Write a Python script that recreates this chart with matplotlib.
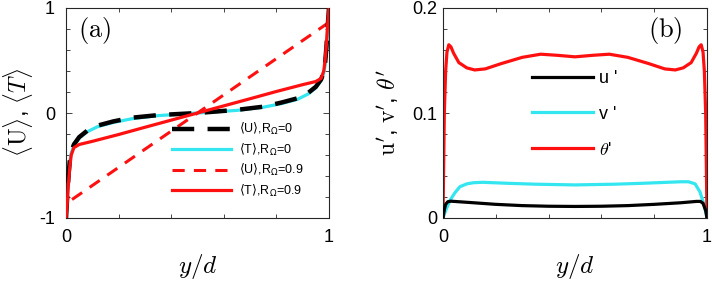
import matplotlib
matplotlib.use("Agg")
import matplotlib.pyplot as plt
from matplotlib.font_manager import FontProperties
from matplotlib.ticker import MultipleLocator, FixedLocator

plt.rcParams['font.family'] = ['Liberation Sans', 'DejaVu Sans']
plt.rcParams['mathtext.fontset'] = 'cm'

# ---- panel (a) data ----
x_r0 = [0, 0.005, 0.01, 0.015, 0.02, 0.03, 0.05, 0.08, 0.12, 0.18, 0.25, 0.35, 0.5,
        0.65, 0.75, 0.82, 0.88, 0.92, 0.95, 0.97, 0.98, 0.985, 0.99, 0.995, 1.0]
U_r0 = [-1, -0.78, -0.58, -0.44, -0.37, -0.30, -0.23, -0.17, -0.12, -0.08, -0.045, -0.02, 0,
        0.03, 0.06, 0.10, 0.14, 0.19, 0.25, 0.32, 0.39, 0.47, 0.62, 0.82, 1]
T_r0 = [-1, -0.8, -0.6, -0.45, -0.38, -0.31, -0.24, -0.18, -0.13, -0.09, -0.055, -0.025, 0,
        0.025, 0.055, 0.09, 0.13, 0.18, 0.24, 0.31, 0.38, 0.45, 0.6, 0.8, 1]
x_U9 = [0, 0.002, 0.5, 0.998, 1.0]
U_r9 = [-1, -0.86, 0, 0.86, 1]
x_T9 = [0, 0.005, 0.01, 0.015, 0.02, 0.03, 0.05, 0.1, 0.2, 0.3, 0.4, 0.5, 0.6, 0.7,
        0.8, 0.9, 0.95, 0.97, 0.98, 0.985, 0.99, 0.995, 1]
T_r9 = [-1, -0.85, -0.65, -0.5, -0.4, -0.33, -0.3, -0.27, -0.205, -0.136, -0.068, 0, 0.068,
        0.136, 0.205, 0.27, 0.30, 0.33, 0.4, 0.5, 0.65, 0.85, 1.0]

# ---- panel (b) data ----
x_th = [0, 0.005, 0.01, 0.015, 0.022, 0.03, 0.04, 0.06, 0.09, 0.12, 0.16, 0.22, 0.3, 0.37,
        0.43, 0.5, 0.57, 0.63, 0.7, 0.78, 0.84, 0.88, 0.91, 0.94, 0.96, 0.97, 0.978, 0.985,
        0.99, 0.995, 1.0]
theta = [0, 0.10, 0.14, 0.158, 0.165, 0.163, 0.157, 0.148, 0.143, 0.141, 0.142, 0.147, 0.153,
         0.156, 0.155, 0.1535, 0.155, 0.156, 0.153, 0.147, 0.142, 0.141, 0.143, 0.148, 0.157,
         0.163, 0.165, 0.158, 0.14, 0.10, 0]
x_v = [0, 0.01, 0.027, 0.045, 0.064, 0.09, 0.115, 0.15, 0.25, 0.35, 0.5, 0.65, 0.75, 0.85,
       0.9, 0.93, 0.955, 0.973, 0.99, 1.0]
v_p = [0, 0.007, 0.017, 0.024, 0.0298, 0.0325, 0.0336, 0.034, 0.033, 0.0322, 0.0315, 0.0322,
       0.033, 0.034, 0.0345, 0.0345, 0.0325, 0.025, 0.012, 0]
x_u = [0, 0.005, 0.01, 0.018, 0.03, 0.1, 0.2, 0.3, 0.4, 0.5, 0.6, 0.7, 0.8, 0.9, 0.96,
       0.975, 0.985, 0.995, 1.0]
u_p = [0, 0.008, 0.013, 0.0155, 0.016, 0.0148, 0.013, 0.0118, 0.0112, 0.011, 0.0112, 0.0118,
       0.013, 0.0145, 0.0158, 0.0158, 0.014, 0.007, 0]

fig = plt.figure(figsize=(7.12, 2.84), dpi=100)
W, H = 712, 284
axa = fig.add_axes([66 / W, 1 - 218 / H, (329 - 66) / W, 210 / H])
axb = fig.add_axes([443 / W, 1 - 218 / H, (707 - 443) / W, 210 / H])

CYAN = '#33e6f0'
RED = '#ff1010'

axa.plot(x_r0, U_r0, color='black', lw=3.2, ls=(0, (5, 3)), label=r'$\langle$U$\rangle$,R$_\Omega$=0', zorder=3)
axa.plot(x_r0, T_r0, color=CYAN, lw=2.3, label=r'$\langle$T$\rangle$,R$_\Omega$=0', zorder=2)
axa.plot(x_U9, U_r9, color=RED, lw=2.2, ls=(0, (4, 3)), label=r'$\langle$U$\rangle$,R$_\Omega$=0.9', zorder=2)
axa.plot(x_T9, T_r9, color=RED, lw=2.3, label=r'$\langle$T$\rangle$,R$_\Omega$=0.9', zorder=4)

axb.plot(x_u, u_p, color='black', lw=2.3, label="u '", zorder=3)
axb.plot(x_v, v_p, color=CYAN, lw=2.3, label="v '", zorder=2)
axb.plot(x_th, theta, color=RED, lw=2.3, label=r"$\theta$'", zorder=2)

for ax, pad in ((axa, 8), (axb, 4)):
    ax.set_xlim(0, 1)
    ax.xaxis.set_major_locator(FixedLocator([0, 1]))
    ax.xaxis.set_minor_locator(MultipleLocator(0.2))
    ax.tick_params(which='both', direction='in', top=True, right=True,
                   color='#262626', width=0.6, labelsize=13)
    ax.tick_params(which='major', length=4)
    ax.tick_params(which='minor', length=3)
    ax.tick_params(axis='x', pad=8)
    ax.tick_params(axis='y', pad=pad)
    for s in ax.spines.values():
        s.set_color('#262626')
        s.set_linewidth(0.8)
    ax.set_xlabel(r'$y/d$', fontsize=18, labelpad=4)

axa.set_ylim(-1, 1)
axa.yaxis.set_major_locator(FixedLocator([-1, 0, 1]))
axa.yaxis.set_minor_locator(MultipleLocator(0.2))
axa.set_yticklabels(['-1', '0', '1'])
axa.set_ylabel(r'$\langle\mathrm{U}\rangle$, $\langle T\rangle$', fontsize=17, labelpad=3)

axb.set_ylim(0, 0.2)
axb.yaxis.set_major_locator(FixedLocator([0, 0.1, 0.2]))
axb.yaxis.set_minor_locator(MultipleLocator(0.02))
axb.set_yticklabels(['0', '0.1', '0.2'])
axb.set_ylabel(r"$\mathrm{u}'$, $\mathrm{v}'$, $\theta'$", fontsize=17, labelpad=8)

axa.text(0.045, 0.895, r'$\mathrm{(a)}$', transform=axa.transAxes, fontsize=19,
         va='center', ha='left')
axb.text(0.775, 0.895, r'$\mathrm{(b)}$', transform=axb.transAxes, fontsize=19,
         va='center', ha='left')

legA = axa.legend(loc='upper left', bbox_to_anchor=(0.385, 0.485), frameon=False,
                  prop=FontProperties(family='Liberation Sans', size=9, math_fontfamily='dejavusans'),
                  handlelength=4.7, handletextpad=0.6, labelspacing=0.35, borderaxespad=0)
legB = axb.legend(loc='upper left', bbox_to_anchor=(0.31, 0.74), frameon=False,
                  prop=FontProperties(family='Liberation Sans', size=13),
                  handlelength=3.4, handletextpad=0.3, labelspacing=1.05, borderaxespad=0)

fig.savefig('out.png', dpi=100)
